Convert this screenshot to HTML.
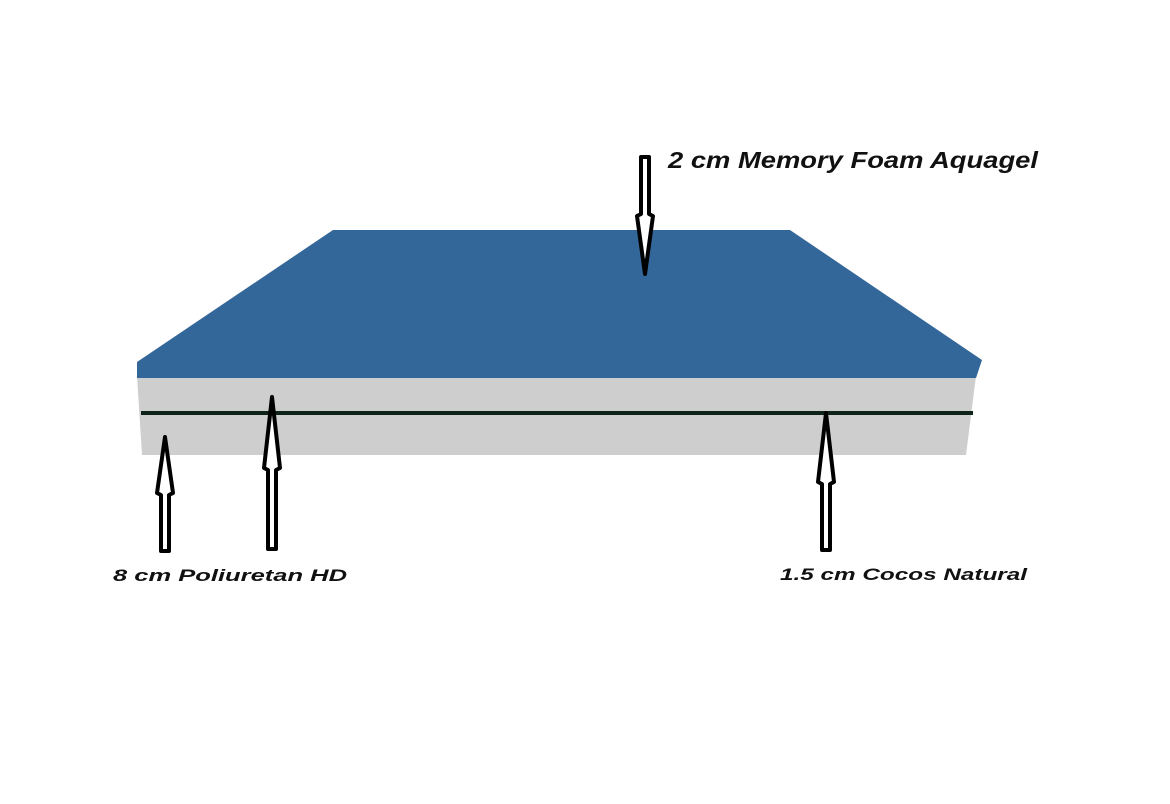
<!DOCTYPE html>
<html><head><meta charset="utf-8"><style>
html,body{margin:0;padding:0;background:#fff;}
svg{display:block}
text{font-family:"Liberation Sans",Arial,sans-serif;font-weight:bold;font-style:italic;fill:#111}
</style></head><body>
<svg width="1170" height="804" viewBox="0 0 1170 804" xmlns="http://www.w3.org/2000/svg">
<rect width="1170" height="804" fill="#fff"/>
<polygon points="137,376 976,376 966,455 142,455" fill="#cecece"/>
<rect x="141" y="411" width="832" height="4" fill="#0e2419"/>
<polygon points="333,230 790,230 982,360 976,378 137,378 137,362" fill="#336699"/>
<g fill="#fff" stroke="#000" stroke-width="4" stroke-linejoin="round">
<polygon points="641,157 649,157 649,214 653,216 645,274 637,216 641,214"/>
<polygon points="165,437 173,493 169,495 169,551 161,551 161,495 157,493"/>
<polygon points="272,397 280,468 276,470 276,549 268,549 268,470 264,468"/>
<polygon points="826,413 834,482 830,484 830,550 822,550 822,484 818,482"/>
</g>
<text x="668" y="168" font-size="23" textLength="370" lengthAdjust="spacingAndGlyphs">2 cm Memory Foam Aquagel</text>
<text x="113" y="581" font-size="17" textLength="234" lengthAdjust="spacingAndGlyphs">8 cm Poliuretan HD</text>
<text x="780" y="580" font-size="17" textLength="247" lengthAdjust="spacingAndGlyphs">1.5 cm Cocos Natural</text>
</svg>
</body></html>
